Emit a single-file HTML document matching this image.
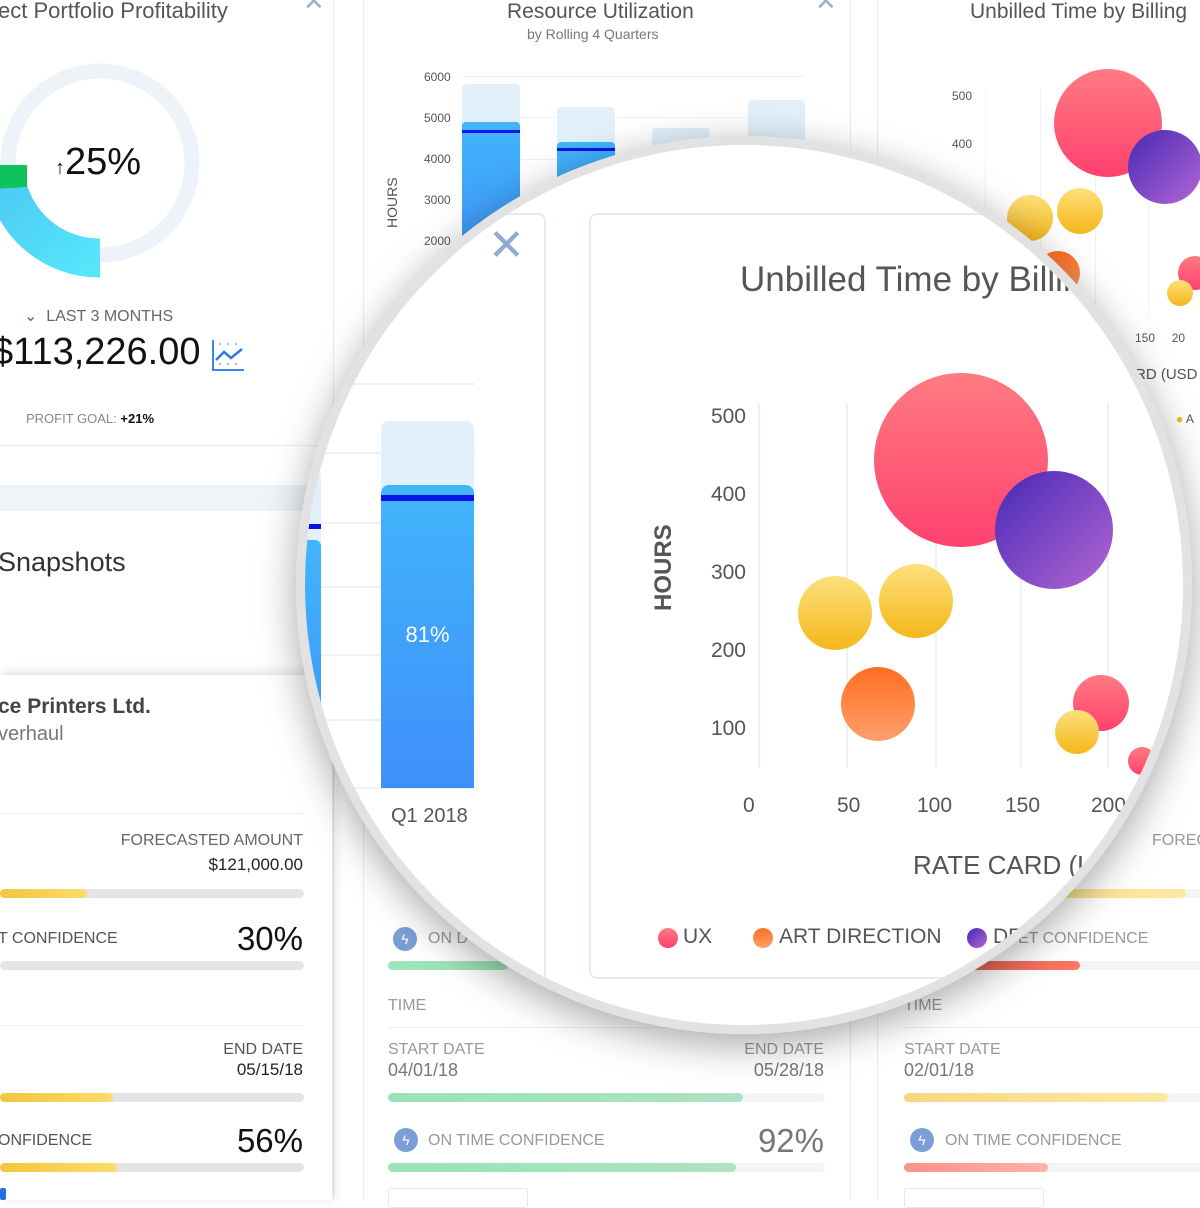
<!DOCTYPE html>
<html><head><meta charset="utf-8"><style>
*{margin:0;padding:0;box-sizing:border-box}
body{width:1200px;height:1200px;position:relative;overflow:hidden;background:#fff;font-family:"Liberation Sans",sans-serif;color:#333}
.a{position:absolute;white-space:nowrap}
.g{color:#777}
.bar{position:absolute;height:9px;border-radius:5px;background:#e4e4e4}
.bar i{position:absolute;left:0;top:0;bottom:0;border-radius:5px}
.ic{position:absolute;width:24px;height:24px;border-radius:50%;background:#7a9fd6;color:#fff;font-size:14px;text-align:center;line-height:24px}
</style></head><body>
<!-- left column -->
<div class="a" style="left:0;top:0;width:334px;height:1200px;border-right:1px solid #e6ecf4"></div>
<div class="a g" style="left:-2px;top:-2px;font-size:22px;color:#555">ect Portfolio Profitability</div>
<div class="a" style="left:303px;top:-14px;font-size:26px;color:#9bb0d6">✕</div>
<svg class="a" style="left:0;top:40px" width="240" height="250">
<defs><linearGradient id="cy" x1="0" y1="0" x2="1" y2="1"><stop offset="0" stop-color="#4cc9f4"/><stop offset="1" stop-color="#55e6fb"/></linearGradient></defs>
<circle cx="100" cy="123" r="92" fill="none" stroke="#edf3f9" stroke-width="15"/>
<path d="M5 135 A95 95 0 0 0 100 218" fill="none" stroke="url(#cy)" stroke-width="39"/>
<path d="M-10 125 L27 125 L27 147 L-10 149 Z" fill="#0fc35a"/>
</svg>
<div class="a" style="left:55px;top:141px;font-size:38px;color:#111"><span style="font-size:20px">↑</span>25%</div>
<div class="a g" style="left:24px;top:306px;font-size:16px;color:#666"><span style="color:#3a6fb4">⌄</span>&nbsp; LAST 3 MONTHS</div>
<div class="a" style="left:-8px;top:331px;font-size:38px;color:#111">$113,226.00</div>
<svg class="a" style="left:212px;top:340px" width="34" height="32"><path d="M1 0V30H32" stroke="#3d85e8" stroke-width="2" fill="none"/><path d="M4 20L12 12L19 18L30 9" stroke="#2a7be6" stroke-width="2.5" fill="none"/><g fill="#7aa8ee"><circle cx="8" cy="4" r="1"/><circle cx="16" cy="4" r="1"/><circle cx="24" cy="4" r="1"/><circle cx="8" cy="24" r="1"/><circle cx="16" cy="24" r="1"/><circle cx="24" cy="24" r="1"/></g></svg>
<div class="a g" style="left:26px;top:411px;font-size:13px;color:#888">PROFIT GOAL: <b style="color:#111">+21%</b></div>
<div class="a" style="left:0;top:445px;width:333px;height:1px;background:#e6ecf4"></div>
<div class="a" style="left:0;top:485px;width:333px;height:26px;background:#f0f3f7"></div>
<div class="a" style="left:-2px;top:547px;font-size:27px;color:#333">Snapshots</div>
<div class="a" style="left:0;top:675px;width:332px;height:525px;background:#fff;box-shadow:0 -4px 10px rgba(0,0,0,.07),4px 0 10px rgba(0,0,0,.08)"></div>
<div class="a" style="left:-2px;top:695px;font-size:21px;font-weight:bold;color:#444">ce Printers Ltd.</div>
<div class="a g" style="left:-2px;top:723px;font-size:20px">verhaul</div>
<div class="a" style="left:0;top:813px;width:304px;height:1px;background:#eee"></div>
<div class="a g" style="right:897px;top:832px;font-size:16px;color:#666">FORECASTED AMOUNT</div>
<div class="a" style="right:897px;top:855px;font-size:17px;color:#222">$121,000.00</div>
<div class="bar" style="left:0;top:889px;width:304px"><i style="width:87px;background:linear-gradient(90deg,#f3c63d,#fbdc6a)"></i></div>
<div class="a g" style="left:-2px;top:930px;font-size:16px;color:#555">T CONFIDENCE</div>
<div class="a" style="right:897px;top:920px;font-size:33px;color:#111">30%</div>
<div class="bar" style="left:0;top:961px;width:304px"></div>
<div class="a" style="left:0;top:1025px;width:304px;height:1px;background:#eee"></div>
<div class="a g" style="right:897px;top:1041px;font-size:16px;color:#555">END DATE</div>
<div class="a" style="right:897px;top:1060px;font-size:17px;color:#222">05/15/18</div>
<div class="bar" style="left:0;top:1093px;width:304px"><i style="width:113px;background:linear-gradient(90deg,#f3c63d,#fbdc6a)"></i></div>
<div class="a g" style="left:-2px;top:1132px;font-size:16px;color:#555">ONFIDENCE</div>
<div class="a" style="right:897px;top:1122px;font-size:33px;color:#111">56%</div>
<div class="bar" style="left:0;top:1163px;width:304px"><i style="width:117px;background:linear-gradient(90deg,#f3c63d,#fbdc6a)"></i></div>
<div class="a" style="left:0;top:1188px;width:6px;height:12px;background:#2a6de0;border-radius:2px"></div>

<!-- middle column -->
<div class="a" style="left:363px;top:0;width:488px;height:1200px;border-left:1px solid #e6ecf4;border-right:1px solid #e6ecf4"></div>
<div class="a" style="left:507px;top:0;font-size:21px;color:#555">Resource Utilization</div>
<div class="a g" style="left:527px;top:26px;font-size:14px">by Rolling 4 Quarters</div>
<div class="a" style="left:815px;top:-14px;font-size:26px;color:#9bb0d6">✕</div>
<div class="a" style="left:384px;top:228px;font-size:14px;color:#555;transform:rotate(-90deg);transform-origin:0 0">HOURS</div>
<div class="a" style="left:424px;top:57px;font-size:12px;color:#555;line-height:41px">6000<br>5000<br>4000<br>3000<br>2000</div>
<div class="a" style="left:462px;top:76px;width:343px;height:1px;background:#eef2f8;box-shadow:0 41px 0 #eef2f8,0 83px 0 #eef2f8,0 124px 0 #eef2f8"></div>
<div class="a" style="left:462px;top:84px;width:58px;height:200px;background:#e1f0fb;border-radius:4px 4px 0 0"></div>
<div class="a" style="left:462px;top:122px;width:58px;height:160px;background:linear-gradient(#41b5fb,#3f8ff9);border-radius:4px 4px 0 0"></div>
<div class="a" style="left:462px;top:130px;width:58px;height:3px;background:#0a12e8"></div>
<div class="a" style="left:557px;top:107px;width:58px;height:200px;background:#e1f0fb;border-radius:4px 4px 0 0"></div>
<div class="a" style="left:557px;top:142px;width:58px;height:160px;background:linear-gradient(#41b5fb,#3f8ff9);border-radius:4px 4px 0 0"></div>
<div class="a" style="left:557px;top:148px;width:58px;height:3px;background:#0a12e8"></div>
<div class="a" style="left:652px;top:128px;width:58px;height:100px;background:#e1f0fb;border-radius:4px 4px 0 0"></div>
<div class="a" style="left:748px;top:100px;width:57px;height:100px;background:#e1f0fb;border-radius:4px 4px 0 0"></div>
<div class="ic" style="left:393px;top:927px">ϟ</div>
<div class="a g" style="left:428px;top:930px;font-size:16px;color:#999">ON D</div>
<div class="bar" style="left:388px;top:961px;width:437px;background:#f4f4f4"><i style="width:120px;background:#9fe3b9"></i></div>
<div class="a g" style="left:388px;top:997px;font-size:16px;color:#999">TIME</div>
<div class="a" style="left:388px;top:1027px;width:437px;height:1px;background:#f0f0f0"></div>
<div class="a g" style="left:388px;top:1041px;font-size:16px;color:#999">START DATE</div>
<div class="a g" style="left:388px;top:1060px;font-size:18px;color:#777">04/01/18</div>
<div class="a g" style="right:376px;top:1041px;font-size:16px;color:#999">END DATE</div>
<div class="a g" style="right:376px;top:1060px;font-size:18px;color:#777">05/28/18</div>
<div class="bar" style="left:388px;top:1093px;width:437px;background:#f4f4f4"><i style="width:355px;background:linear-gradient(90deg,#98e4b6,#aee2c2)"></i></div>
<div class="ic" style="left:394px;top:1128px">ϟ</div>
<div class="a g" style="left:428px;top:1132px;font-size:16px;color:#999">ON TIME CONFIDENCE</div>
<div class="a" style="right:376px;top:1122px;font-size:33px;color:#777">92%</div>
<div class="bar" style="left:388px;top:1163px;width:437px;background:#f4f4f4"><i style="width:348px;background:linear-gradient(90deg,#98e4b6,#aee2c2)"></i></div>
<div class="a" style="left:388px;top:1188px;width:140px;height:20px;border:1px solid #e3e9f2;border-radius:3px"></div>

<!-- right column -->
<div class="a" style="left:877px;top:0;width:330px;height:1200px;border-left:1px solid #e6ecf4"></div>
<div class="a" style="left:970px;top:0;font-size:21px;color:#555">Unbilled Time by Billing</div>
<div class="a" style="left:952px;top:72px;font-size:12px;color:#555;line-height:48px">500<br>400</div>
<div class="a" style="left:985px;top:88px;width:1px;height:230px;background:#eef2f8;box-shadow:55px 0 0 #eef2f8,110px 0 0 #eef2f8,163px 0 0 #eef2f8"></div>
<svg class="a" style="left:980px;top:60px" width="220" height="260">
<defs>
<linearGradient id="r1" x1="0" y1="0" x2="0" y2="1"><stop offset="0" stop-color="#ff7b82"/><stop offset="1" stop-color="#ff416e"/></linearGradient>
<linearGradient id="p1" x1="0" y1="0" x2="1" y2="1"><stop offset="0" stop-color="#4529b4"/><stop offset="1" stop-color="#b466d4"/></linearGradient>
<linearGradient id="y1" x1="0" y1="0" x2="0" y2="1"><stop offset="0" stop-color="#fde07c"/><stop offset="1" stop-color="#f5b71a"/></linearGradient>
<linearGradient id="o1" x1="0" y1="0" x2="0" y2="1"><stop offset="0" stop-color="#ff6e22"/><stop offset="1" stop-color="#ff9f6d"/></linearGradient>
</defs>
<circle cx="128" cy="63" r="54" fill="url(#r1)"/>
<circle cx="185" cy="107" r="37" fill="url(#p1)"/>
<circle cx="50" cy="158" r="23" fill="url(#y1)"/>
<circle cx="100" cy="151" r="23" fill="url(#y1)"/>
<circle cx="78" cy="213" r="22" fill="url(#o1)"/>
<circle cx="215" cy="213" r="17" fill="url(#r1)"/>
<circle cx="200" cy="233" r="13" fill="url(#y1)"/>
</svg>
<div class="a" style="left:1135px;top:331px;font-size:12px;color:#555">150 &nbsp;&nbsp;&nbsp;&nbsp;20</div>
<div class="a" style="left:1135px;top:366px;font-size:15px;color:#555">RD (USD</div>
<div class="a" style="left:1176px;top:412px;font-size:12px;color:#555"><span style="color:#f5b71a">●</span> A</div>
<div class="a g" style="left:1152px;top:832px;font-size:16px;color:#999">FOREC</div>
<div class="bar" style="left:904px;top:889px;width:300px;background:#f4f4f4"><i style="width:282px;background:linear-gradient(90deg,#f8d67e,#fde9a4)"></i></div>
<div class="a g" style="left:994px;top:930px;font-size:16px;color:#999">DGET CONFIDENCE</div>
<div class="bar" style="left:904px;top:961px;width:300px;background:#f4f4f4"><i style="width:176px;background:linear-gradient(90deg,#d85a4a,#ff7766)"></i></div>
<div class="a g" style="left:904px;top:997px;font-size:16px;color:#999">TIME</div>
<div class="a" style="left:904px;top:1027px;width:300px;height:1px;background:#f0f0f0"></div>
<div class="a g" style="left:904px;top:1041px;font-size:16px;color:#999">START DATE</div>
<div class="a g" style="left:904px;top:1060px;font-size:18px;color:#777">02/01/18</div>
<div class="bar" style="left:904px;top:1093px;width:300px;background:#f4f4f4"><i style="width:264px;background:linear-gradient(90deg,#f8d67e,#fde9a4)"></i></div>
<div class="ic" style="left:910px;top:1128px">ϟ</div>
<div class="a g" style="left:945px;top:1132px;font-size:16px;color:#999">ON TIME CONFIDENCE</div>
<div class="bar" style="left:904px;top:1163px;width:300px;background:#f4f4f4"><i style="width:144px;background:linear-gradient(90deg,#f8938a,#ffb3a8)"></i></div>
<div class="a" style="left:904px;top:1188px;width:140px;height:20px;border:1px solid #e3e9f2;border-radius:3px"></div>

<!-- magnifier -->
<div class="a" style="left:296px;top:136px;width:896px;height:898px;border-radius:50%;box-shadow:0 10px 40px rgba(0,0,0,.35)"></div>
<div class="a" style="left:296px;top:136px;width:896px;height:898px;border-radius:50%;overflow:hidden;background:#fff;border:9px solid #e2e2e2">
 <div class="a" style="left:-305px;top:-145px;width:1200px;height:1200px">
  <div class="a" style="left:250px;top:213px;width:296px;height:770px;border:2px solid #e6ecf4;border-radius:8px"></div>
  <div class="a" style="left:488px;top:220px;font-size:44px;color:#93a9d3">✕</div>
  <div class="a" style="left:250px;top:383px;width:225px;height:2px;background:#eef2f8"></div>
  <div class="a" style="left:250px;top:452px;width:225px;height:2px;background:#eef2f8;box-shadow:0 70px 0 #eef2f8,0 134px 0 #eef2f8,0 202px 0 #eef2f8,0 267px 0 #eef2f8,0 335px 0 #eef2f8"></div>
  <div class="a" style="left:281px;top:470px;width:40px;height:320px;background:#e1f0fb;border-radius:6px"></div>
  <div class="a" style="left:281px;top:540px;width:40px;height:250px;background:linear-gradient(#41b5fb,#3f8ff9);border-radius:6px 6px 0 0"></div>
  <div class="a" style="left:281px;top:524px;width:40px;height:5px;background:#0a12e8"></div>
  <div class="a" style="left:381px;top:421px;width:93px;height:100px;background:#e1f0fb;border-radius:8px 8px 0 0"></div>
  <div class="a" style="left:381px;top:485px;width:93px;height:303px;background:linear-gradient(#41b5fb,#3f8ff9);border-radius:8px 8px 0 0"></div>
  <div class="a" style="left:381px;top:495px;width:93px;height:6px;background:#0a12e8"></div>
  <div class="a" style="left:381px;top:622px;width:93px;text-align:center;font-size:22px;color:#fff">81%</div>
  <div class="a" style="left:391px;top:805px;font-size:20px;color:#555">Q1 2018</div>

  <div class="a" style="left:589px;top:213px;width:620px;height:766px;border:2px solid #e6ecf4;border-radius:8px"></div>
  <div class="a" style="left:740px;top:260px;font-size:35px;color:#555">Unbilled Time by Billing</div>
  <div class="a" style="left:650px;top:611px;font-size:24px;font-weight:bold;color:#555;transform:rotate(-90deg);transform-origin:0 0">HOURS</div>
  <div class="a" style="left:700px;top:378px;width:46px;text-align:right;font-size:21px;color:#555;line-height:78px">500<br>400<br>300<br>200<br>100</div>
  <div class="a" style="left:758px;top:403px;width:2px;height:365px;background:#eef2f8;box-shadow:88px 0 0 #eef2f8,177px 0 0 #eef2f8,262px 0 0 #eef2f8,349px 0 0 #eef2f8"></div>
  <div class="a" style="left:743px;top:794px;font-size:21px;color:#555">0</div>
  <div class="a" style="left:837px;top:794px;font-size:21px;color:#555">50</div>
  <div class="a" style="left:917px;top:794px;font-size:21px;color:#555">100</div>
  <div class="a" style="left:1005px;top:794px;font-size:21px;color:#555">150</div>
  <div class="a" style="left:1091px;top:794px;font-size:21px;color:#555">200</div>
  <div class="a" style="left:913px;top:850px;font-size:26px;color:#555">RATE CARD (USD)</div>
  <svg class="a" style="left:780px;top:360px" width="420" height="430">
   <circle cx="181" cy="100" r="87" fill="url(#r1)"/>
   <circle cx="274" cy="170" r="59" fill="url(#p1)"/>
   <circle cx="55" cy="253" r="37" fill="url(#y1)"/>
   <circle cx="136" cy="241" r="37" fill="url(#y1)"/>
   <circle cx="98" cy="344" r="37" fill="url(#o1)"/>
   <circle cx="321" cy="343" r="28" fill="url(#r1)"/>
   <circle cx="297" cy="372" r="22" fill="url(#y1)"/>
   <circle cx="362" cy="401" r="14" fill="url(#r1)"/>
  </svg>
  <svg class="a" style="left:657px;top:926px" width="340" height="24">
   <circle cx="11" cy="12" r="10" fill="url(#r1)"/>
   <circle cx="106" cy="12" r="10" fill="url(#o1)"/>
   <circle cx="320" cy="12" r="10" fill="url(#p1)"/>
  </svg>
  <div class="a" style="left:683px;top:925px;font-size:21px;color:#555">UX</div>
  <div class="a" style="left:779px;top:925px;font-size:21px;color:#555">ART DIRECTION</div>
  <div class="a" style="left:993px;top:925px;font-size:21px;color:#555">DESIGN</div>
 </div>
</div>
</body></html>
